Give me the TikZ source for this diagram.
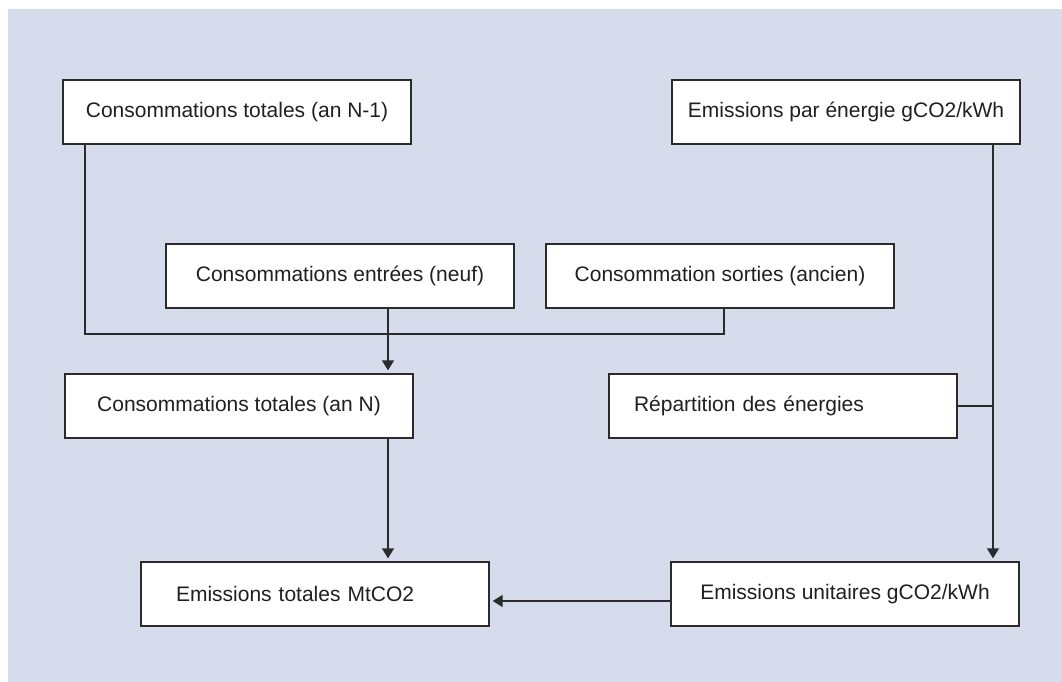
\documentclass[tikz,border=0pt]{standalone}
\usepackage{fontspec}
\setmainfont{Liberation Sans}
\usetikzlibrary{arrows.meta}

\definecolor{fond}{HTML}{D6DCEB}
\definecolor{trait}{HTML}{2B2B2B}
\definecolor{texte}{HTML}{231F20}

\begin{document}
\begin{tikzpicture}[x=1pt, y=-1pt,
		box/.style={draw=trait, line width=1.3pt, fill=white, minimum width=348pt, minimum height=64pt, inner sep=0pt, text=texte, font=\fontsize{21}{25}\selectfont},
		leftbox/.style={box, align=left, text width=348pt-2*#1, inner xsep=#1},
		lien/.style={draw=trait, line width=1.3pt},
		fleche/.style={lien, -{Triangle[length=10pt, width=12pt]}, shorten >=3pt}]
		
		%
		\useasboundingbox (0,0) rectangle (1062,682);
		\fill[fond] (8,9) rectangle (1062,682);
		
		%
		\node[box] (N1) at (237,112) {Consommations totales (an N-1)};
		\node[box] (EE) at (846,112) {Emissions par énergie gCO2/kWh};
		\node[box] (CE) at (340,276) {Consommations entrées (neuf)};
		\node[box] (CS) at (720,276) {Consommation sorties (ancien)};
		\node[box] (N) at (239,406) {Consommations totales (an N)};
		\node[leftbox=25pt] (RE) at (783,406) {Répartition des énergies};
		\node[leftbox=35pt] (ET) at (315,594) {Emissions totales MtCO2};
		\node[box] (EU) at (845,594) {Emissions unitaires gCO2/kWh};
		
		%
		\coordinate (J1) at (85,334);
		\coordinate (J2) at (724,334);
		\coordinate (XM) at (388,334);
		\coordinate (XR) at (993,401);
		\coordinate (YH) at (600,601);
		
		\draw[lien] (N1.south -| J1) -- (J1) -- (J2) -- (CS.south -| J2);
		\draw[fleche] (CE.south -| XM) -- (N.north -| XM);
		\draw[fleche] (N.south -| XM) -- (ET.north -| XM);
		
		\draw[fleche] (EE.south -| XR) -- (EU.north -| XR);
		\draw[lien] (RE.east) -- (RE.east -| XR);
		
		\draw[fleche] (EU.west |- YH) -- (ET.east |- YH);
		
	\end{tikzpicture}
\end{document}
